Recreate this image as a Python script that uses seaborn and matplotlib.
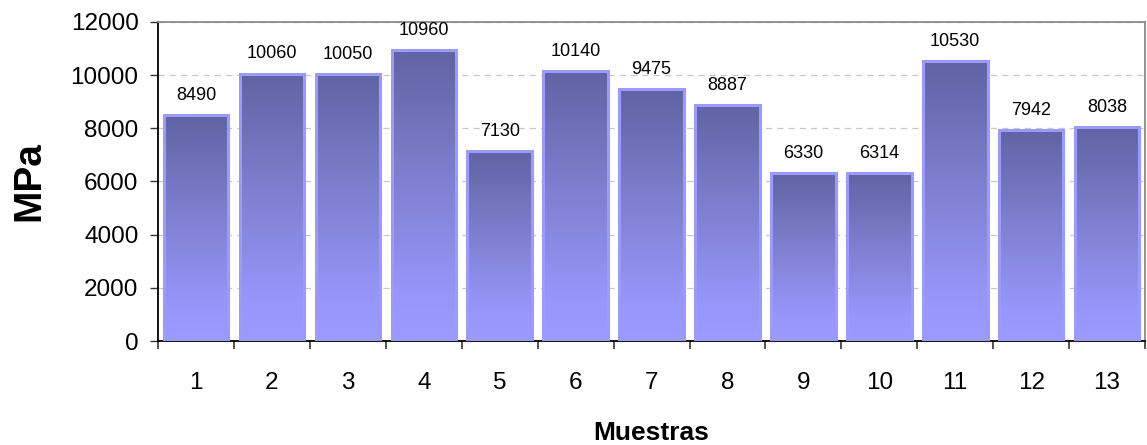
import numpy as np
import pandas as pd
import seaborn as sns
import matplotlib.pyplot as plt
from matplotlib.colors import LinearSegmentedColormap
from matplotlib.ticker import FixedLocator, MultipleLocator

# Data
muestras = ["1", "2", "3", "4", "5", "6", "7", "8", "9", "10", "11", "12", "13"]
mpa = [8490, 10060, 10050, 10960, 7130, 10140, 9475, 8887, 6330, 6314, 10530, 7942, 8038]

df = pd.DataFrame({"Muestras": muestras, "MPa": mpa})

sns.set_style("white")
plt.rcParams["font.family"] = ["Liberation Sans", "DejaVu Sans"]
plt.rcParams["text.color"] = "black"
plt.rcParams["axes.labelcolor"] = "black"
plt.rcParams["xtick.labelcolor"] = "black"
plt.rcParams["ytick.labelcolor"] = "black"

fig = plt.figure(figsize=(11.47, 4.45), dpi=100)
ax = fig.add_axes([0.1378, 0.2337, 0.8605, 0.7169])

sns.barplot(data=df, x="Muestras", y="MPa", color="#9999ff", width=0.85,
            edgecolor="#9a9aff", linewidth=2.2, ax=ax, zorder=3)

# vertical gradient inside each bar (dark top, light bottom)
cmap = LinearSegmentedColormap.from_list(
    "bar", [(0.0, "#9a9aff"), (0.15, "#9797fb"), (0.55, "#7f80d0"), (1.0, "#6063a3")])
grad = np.linspace(0, 1, 256).reshape(-1, 1)
for p in ax.patches:
    x0, y0 = p.get_x(), p.get_y()
    w, h = p.get_width(), p.get_height()
    im = ax.imshow(grad, cmap=cmap, origin="lower", aspect="auto",
                   extent=[x0, x0 + w, y0, y0 + h], zorder=2.5)
    im.set_clip_path(p)
    p.set_facecolor("none")

ax.set_xlim(-0.5, len(muestras) - 0.5)
ax.set_ylim(0, 12000)
ax.yaxis.set_major_locator(MultipleLocator(2000))

# value labels
for i, v in enumerate(mpa):
    ax.annotate(str(v), (i, v), xytext=(0, 8), textcoords="offset points",
                ha="center", va="bottom", fontsize=13, color="black")

ax.grid(axis="y", color="#c8c8c8", linestyle=(0, (5, 4)), linewidth=0.9, zorder=0)
ax.set_axisbelow(True)

# ticks: labels centred, marks between categories
ax.tick_params(axis="x", which="major", length=0, pad=22, labelsize=17.5)
ax.xaxis.set_minor_locator(FixedLocator(np.arange(-0.5, len(muestras), 1.0)))
ax.tick_params(axis="x", which="minor", length=6, width=1.2, color="#333333",
               direction="out", bottom=True)
ax.tick_params(axis="y", length=6, width=1.0, color="#333333", direction="out",
               left=True, pad=8, labelsize=17.5)

for s in ["left", "bottom"]:
    ax.spines[s].set_color("black")
    ax.spines[s].set_linewidth(1.3)
for s in ["top", "right"]:
    ax.spines[s].set_color("#8a8a8a")
    ax.spines[s].set_linewidth(1.3)

ax.set_xlabel("Muestras", fontsize=19, fontweight="bold")
ax.set_ylabel("MPa", fontsize=28, fontweight="bold")
ax.xaxis.set_label_coords(0.5, -0.25)
ax.yaxis.set_label_coords(-0.112, 0.5)

fig.savefig("out.png", dpi=100)
